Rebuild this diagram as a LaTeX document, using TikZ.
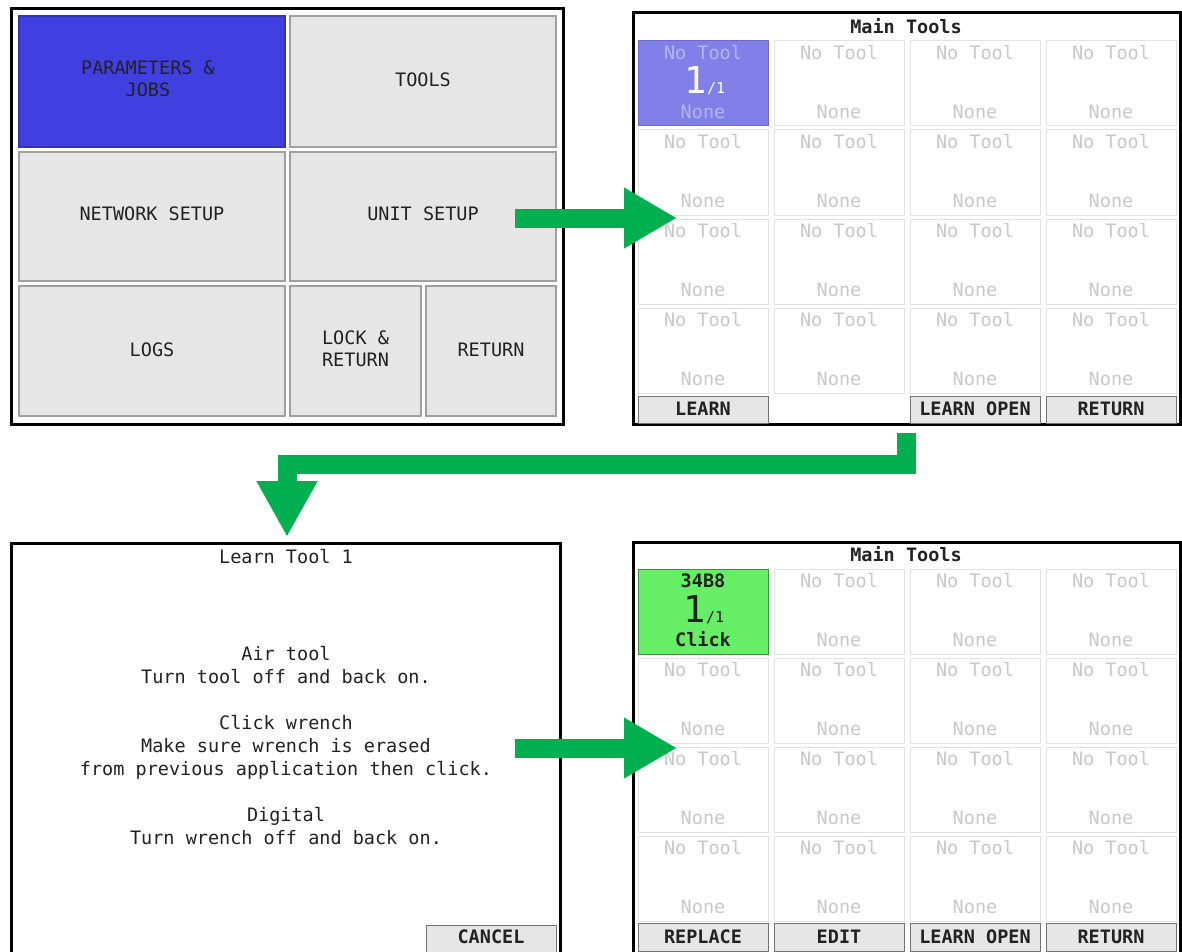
\documentclass[tikz,border=0pt]{standalone}
\usepackage{fontspec}
\setmonofont{DejaVu Sans Mono}
\usetikzlibrary{arrows.meta}
\definecolor{arrowgreen}{HTML}{00B050}
\definecolor{btnfill}{HTML}{E6E6E6}
\definecolor{btnborder}{HTML}{A0A0A0}
\definecolor{paramblue}{HTML}{4040E0}
\definecolor{cellblue}{HTML}{8080E8}
\definecolor{cellbluetext}{HTML}{B4B4F2}
\definecolor{cellgreen}{HTML}{66EE66}
\definecolor{cellborder}{HTML}{E2E2E2}
\definecolor{celltext}{HTML}{C8C8C8}
\definecolor{darktext}{HTML}{222222}
\newcommand\uifont{\ttfamily\fontsize{18.5}{22}\selectfont}
\tikzset{
  frame/.style={draw=black, line width=3pt, fill=white, inner sep=0pt, outer sep=0pt},
  menubtn/.style={draw=btnborder, line width=1.2pt, fill=btnfill, inner sep=0pt, outer sep=0pt},
  barbtn/.style={draw=black!55, line width=1pt, fill=btnfill, inner sep=0pt, outer sep=0pt},
  cellbox/.style={draw=cellborder, line width=1pt, fill=white, inner sep=0pt, outer sep=0pt,
    minimum width=130pt, minimum height=85pt},
  lbl/.style={font=\uifont, text=darktext, inner sep=0pt, align=center},
  boldlbl/.style={lbl, font=\uifont\bfseries},
  graytxt/.style={font=\uifont, text=celltext, inner sep=0pt},
  bigarrow/.style={draw=arrowgreen, line width=19pt, line join=miter}
}
\begin{document}
\begin{tikzpicture}[x=1pt,y=-1pt]
\useasboundingbox (0,0) rectangle (1182,952);
\clip (0,0) rectangle (1182,952);

% ---------- Panel 1: menu ----------
\node[frame, minimum width=552pt, minimum height=415pt] (p1) at (287.5,216.5) {};
\node[menubtn, fill=paramblue, draw=paramblue!80!black, minimum width=266pt, minimum height=131pt] (bparam) at (152,81.5) {};
\node[lbl] (lparam) at (148,79) {PARAMETERS \&\\JOBS};
\node[menubtn, minimum width=266pt, minimum height=131pt] (btools) at (423,81.5) {};
\node[lbl] (ltools) at (423,80) {TOOLS};
\node[menubtn, minimum width=266pt, minimum height=129pt] (bnet) at (152,216.5) {};
\node[lbl] (lnet) at (152,214) {NETWORK SETUP};
\node[menubtn, minimum width=266pt, minimum height=129pt] (bunit) at (423,216.5) {};
\node[lbl] (lunit) at (423,214) {UNIT SETUP};
\node[menubtn, minimum width=266pt, minimum height=130pt] (blogs) at (152,351) {};
\node[lbl] (llogs) at (152,350) {LOGS};
\node[menubtn, minimum width=131pt, minimum height=130pt] (block) at (355.5,351) {};
\node[lbl] (llock) at (355.5,349) {LOCK \&\\RETURN};
\node[menubtn, minimum width=130pt, minimum height=130pt] (bret) at (491,351) {};
\node[lbl] (lret) at (491,350) {RETURN};

% ---------- Panel 2: Main Tools (empty) ----------
\node[frame, minimum width=546.5pt, minimum height=412pt] (p2) at (906.75,218.5) {};
\node[boldlbl] (t2) at (906,26) {Main Tools};
\foreach \r in {1,...,4}{\foreach \c in {1,...,4}{
  \pgfmathsetmacro\cx{638+136*(\c-1)+65}
  \pgfmathsetmacro\cy{41+89*(\r-1)+42.5}
  \pgfmathtruncatemacro\k{10*\r+\c}
  \ifnum\k=11
    \node[cellbox, fill=cellblue, draw=cellblue!85!black] (a\r\c) at (\cx,\cy) {};
  \else
    \node[cellbox] (a\r\c) at (\cx,\cy) {};
    \node[graytxt] (an\r\c) at (\cx,\cy-30.5) {No Tool};
    \node[graytxt] (ao\r\c) at (\cx,\cy+28.5) {None};
  \fi
}}
\node[graytxt, text=cellbluetext] (an11) at (703,53) {No Tool};
\node[inner sep=0pt, anchor=base, text=white, font=\ttfamily] (anum) at (705,94)
  {{\fontsize{37}{37}\selectfont 1}{\fontsize{15}{15}\selectfont/1}};
\node[graytxt, text=cellbluetext] (ao11) at (703,112) {None};
\node[barbtn, minimum width=130pt, minimum height=27pt] (bl1) at (703,409.5) {};
\node[boldlbl] (tl1) at (703,409) {LEARN};
\node[barbtn, minimum width=130pt, minimum height=27pt] (bl3) at (975,409.5) {};
\node[boldlbl] (tl3) at (975,409) {LEARN OPEN};
\node[barbtn, minimum width=130pt, minimum height=27pt] (bl4) at (1111,409.5) {};
\node[boldlbl] (tl4) at (1111,409) {RETURN};

% ---------- Panel 3: Learn Tool 1 ----------
\node[frame, minimum width=549pt, minimum height=420pt] (p3) at (286,753.5) {};
\node[lbl] (t3) at (286,557) {Learn Tool 1};
\node[lbl, font=\ttfamily\fontsize{18.5}{23}\selectfont] (msg) at (286,746)
  {Air tool\\Turn tool off and back on.\\[23pt]Click wrench\\Make sure wrench is erased\\from previous application then click.\\[23pt]Digital\\Turn wrench off and back on.};
\node[barbtn, minimum width=130pt, minimum height=30pt] (bcancel) at (491,940) {};
\node[boldlbl] (tcancel) at (491,937) {CANCEL};

% ---------- Panel 4: Main Tools (learned) ----------
\node[frame, minimum width=546.5pt, minimum height=420pt] (p4) at (906.75,752.5) {};
\node[boldlbl] (t4) at (906,554) {Main Tools};
\foreach \r in {1,...,4}{\foreach \c in {1,...,4}{
  \pgfmathsetmacro\cx{638+136*(\c-1)+65}
  \pgfmathsetmacro\cy{569+89*(\r-1)+42.5}
  \pgfmathtruncatemacro\k{10*\r+\c}
  \ifnum\k=11
    \node[cellbox, fill=cellgreen, draw=cellgreen!60!black] (b\r\c) at (\cx,\cy) {};
  \else
    \node[cellbox] (b\r\c) at (\cx,\cy) {};
    \node[graytxt] (bn\r\c) at (\cx,\cy-30.5) {No Tool};
    \node[graytxt] (bo\r\c) at (\cx,\cy+28.5) {None};
  \fi
}}
\node[boldlbl] (bn11) at (703,581) {34B8};
\node[inner sep=0pt, anchor=base, text=darktext, font=\ttfamily] (bnum) at (704,622)
  {{\fontsize{37}{37}\selectfont 1}{\fontsize{15}{15}\selectfont/1}};
\node[boldlbl] (bo11) at (703,639) {Click};
\node[barbtn, minimum width=130pt, minimum height=28pt] (br1) at (703,937) {};
\node[boldlbl] (tr1) at (703,937) {REPLACE};
\node[barbtn, minimum width=130pt, minimum height=28pt] (br2) at (839,937) {};
\node[boldlbl] (tr2) at (839,937) {EDIT};
\node[barbtn, minimum width=130pt, minimum height=28pt] (br3) at (975,937) {};
\node[boldlbl] (tr3) at (975,937) {LEARN OPEN};
\node[barbtn, minimum width=130pt, minimum height=28pt] (br4) at (1111,937) {};
\node[boldlbl] (tr4) at (1111,937) {RETURN};

% ---------- Arrows ----------
\coordinate (a1s) at (515,218);
\coordinate (a1e) at (677,218);
\draw[bigarrow, -{Triangle[width=57pt,length=53pt]}] (a1s) -- (a1e);

\coordinate (a2s) at (906.5,433);
\coordinate (a2m) at (287,464.5);
\coordinate (a2e) at (287,537);
\draw[bigarrow, -{Triangle[width=57pt,length=56pt]}] (a2s) |- (a2m) -- (a2e);

\coordinate (a3s) at (515,748);
\coordinate (a3e) at (677,748);
\draw[bigarrow, -{Triangle[width=57pt,length=53pt]}] (a3s) -- (a3e);
\end{tikzpicture}
\end{document}
